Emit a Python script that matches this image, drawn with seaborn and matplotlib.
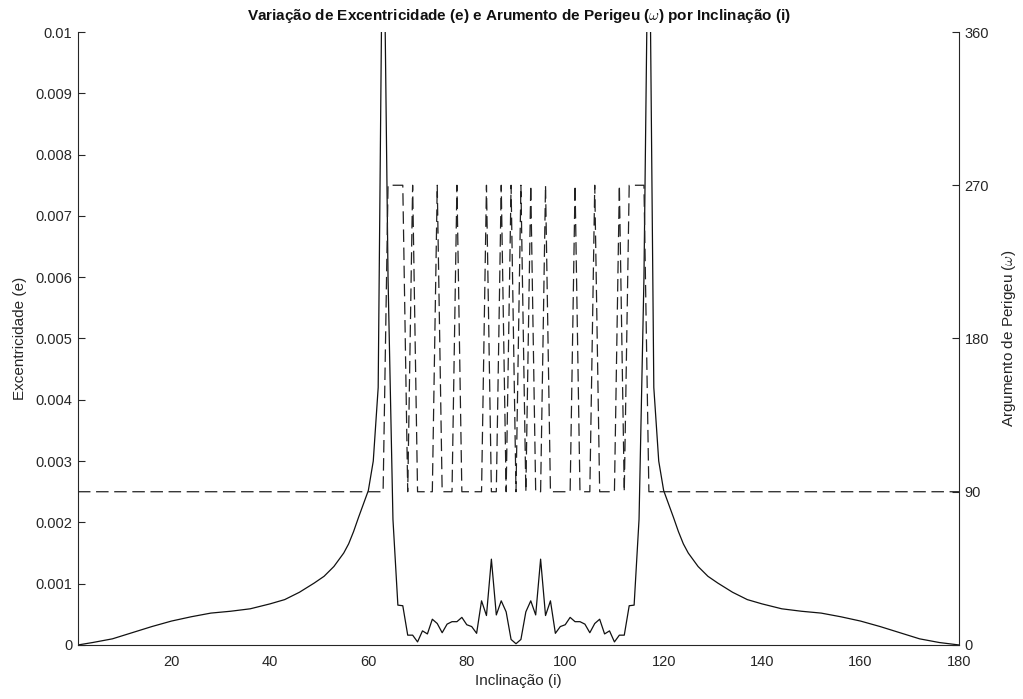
import matplotlib
matplotlib.use("Agg")
import matplotlib.pyplot as plt
import seaborn as sns
import pandas as pd

# ---- data ----
incl_e = [1, 4, 8, 12, 16, 20, 24, 28, 32, 36, 40, 43, 46, 49, 51, 53, 55, 56, 57, 58, 59,
          60, 61, 62,
          63, 64, 65, 66, 67, 68, 69, 70, 71, 72, 73, 74, 75, 76, 77, 78, 79, 80, 81, 82,
          83, 84, 85, 86, 87, 88, 89, 90, 91, 92, 93, 94, 95, 96, 97, 98, 99, 100, 101,
          102, 103, 104, 105, 106, 107, 108, 109, 110, 111, 112, 113, 114, 115, 116, 117,
          118, 119, 120, 121, 122, 123, 124, 125, 127, 129, 131, 134, 137, 140, 144, 148,
          152, 156, 160, 164, 168, 172, 176, 180]
ecc = [0.0, 0.00004, 0.00010, 0.00020, 0.00030, 0.00039, 0.00046, 0.00052, 0.00055,
       0.00059, 0.00067, 0.00074, 0.00086, 0.00101, 0.00112, 0.00128, 0.00150, 0.00165,
       0.00185, 0.00208, 0.00230, 0.00252, 0.00300, 0.00420,
       0.01300, 0.00600, 0.00205, 0.00065, 0.00064, 0.00016, 0.00016, 0.00005, 0.00023,
       0.00018, 0.00042, 0.00035, 0.00020, 0.00034, 0.00038, 0.00038, 0.00045, 0.00033,
       0.00030, 0.00019,
       0.00072, 0.00048, 0.00140, 0.00049, 0.00072, 0.00054, 0.00009, 0.00002, 0.00009,
       0.00054, 0.00072, 0.00049, 0.00140, 0.00048, 0.00072, 0.00019, 0.00030, 0.00033,
       0.00045,
       0.00038, 0.00038, 0.00034, 0.00020, 0.00035, 0.00042, 0.00018, 0.00023, 0.00005,
       0.00016, 0.00016, 0.00064, 0.00065, 0.00205, 0.00600, 0.01300,
       0.00420, 0.00300, 0.00252, 0.00230, 0.00208, 0.00185, 0.00165, 0.00150, 0.00128,
       0.00112, 0.00101, 0.00086, 0.00074, 0.00067, 0.00059, 0.00055, 0.00052, 0.00046,
       0.00039, 0.00030, 0.00020, 0.00010, 0.00004, 0.0]

incl_w = [1, 63, 64, 67, 68, 69, 70, 73, 74, 75, 77, 78, 79, 83, 84, 85, 86, 87, 88, 89,
          90, 91, 92, 93, 94, 95, 96, 97, 101, 102, 103, 105, 106, 107, 110, 111, 112, 113,
          116, 117, 180]
omega = [90, 90, 270, 270, 90, 270, 90, 90, 270, 90, 90, 270, 90, 90, 270, 90, 90, 270, 90,
         270, 90, 270, 90, 270, 90, 90, 270, 90, 90, 270, 90, 90, 270, 90, 90, 270, 90, 270,
         270, 90, 90]

x_ticks = [20, 40, 60, 80, 100, 120, 140, 160, 180]
e_ticks = [0, 0.001, 0.002, 0.003, 0.004, 0.005, 0.006, 0.007, 0.008, 0.009, 0.01]
e_labels = ["0", "0.001", "0.002", "0.003", "0.004", "0.005", "0.006", "0.007", "0.008",
            "0.009", "0.01"]
w_ticks = [0, 90, 180, 270, 360]

title = "Variação de Excentricidade (e) e Arumento de Perigeu ($\\omega$) por Inclinação (i)"
xlabel = "Inclinação (i)"
ylabel_l = "Excentricidade (e)"
ylabel_r = "Argumento de Perigeu ($\\omega$)"

# ---- style ----
sns.set_theme(style="white")
plt.rcParams["font.family"] = ["Liberation Sans", "DejaVu Sans"]
plt.rcParams["mathtext.fontset"] = "cm"
axc = "#262626"

df_e = pd.DataFrame({"i": incl_e, "e": ecc})
df_w = pd.DataFrame({"i": incl_w, "w": omega})

fig = plt.figure(figsize=(10.23, 6.99), dpi=100)
ax = fig.add_axes([0.0762, 0.0773, 0.8612, 0.8769])
ax2 = ax.twinx()

sns.lineplot(data=df_e, x="i", y="e", ax=ax, color="#111111", linewidth=0.9,
             estimator=None, sort=False)
sns.lineplot(data=df_w, x="i", y="w", ax=ax2, color="#222222", linewidth=0.9,
             estimator=None, sort=False)
for ln in ax2.get_lines():
    ln.set_linestyle((0, (10, 4.5)))

ax.set_xlim(1, 180)
ax.set_ylim(0, 0.01)
ax2.set_ylim(0, 360)
ax.set_xticks(x_ticks)
ax.set_xticklabels([str(t) for t in x_ticks])
ax.set_yticks(e_ticks)
ax.set_yticklabels(e_labels)
ax2.set_yticks(w_ticks)
ax2.set_yticklabels([str(t) for t in w_ticks])

for a in (ax, ax2):
    a.spines["top"].set_visible(False)
    for s in a.spines.values():
        s.set_color(axc)
        s.set_linewidth(0.8)
    a.tick_params(direction="in", length=5, width=0.8, colors=axc, labelsize=10.5)
ax.spines["right"].set_visible(False)
ax2.spines["left"].set_visible(False)
ax2.spines["bottom"].set_visible(False)
ax.tick_params(axis="x", pad=7)
ax.tick_params(axis="y", pad=4)
ax2.tick_params(axis="y", pad=4)

ax.set_xlabel(xlabel, fontsize=11, color=axc, labelpad=4)
ax.set_ylabel(ylabel_l, fontsize=11, color=axc, labelpad=6)
ax2.set_ylabel(ylabel_r, fontsize=11, color=axc, labelpad=8, rotation=90)
ax.set_title(title, fontsize=11, fontweight="bold", color="#111111", pad=9)

fig.savefig("out.png", dpi=100)
